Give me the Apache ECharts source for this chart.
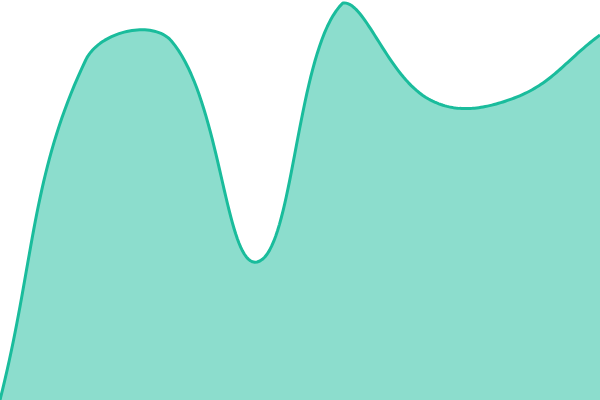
<!DOCTYPE html>
<html><head><meta charset="utf-8">
<script src="https://cdn.jsdelivr.net/npm/echarts@6/dist/echarts.min.js"></script>
<style>html,body{margin:0;padding:0;background:#fff}#c{width:600px;height:400px}</style>
</head><body><div id="c"></div>
<script>
const categories = ['1','2','3','4','5','6','7','8'];
const values = [0, 340, 359, 138, 397, 301, 302, 365];
const tension = 0.4;
const chart = echarts.init(document.getElementById('c'));

function renderItem(params, api) {
  if (params.dataIndex !== 0) return null;
  const cs = params.coordSys;
  const pts = values.map((v, i) => api.coord([i, v]));
  const n = pts.length;
  const clampX = x => Math.max(cs.x, Math.min(cs.x + cs.width, x));
  const clampY = y => Math.max(cs.y, Math.min(cs.y + cs.height, y));
  const cpPrev = [], cpNext = [];
  for (let i = 0; i < n; i++) {
    const p = pts[i];
    const pr = pts[i - 1] || p;
    const nx = pts[i + 1] || p;
    const d01 = Math.hypot(p[0] - pr[0], p[1] - pr[1]);
    const d12 = Math.hypot(nx[0] - p[0], nx[1] - p[1]);
    let s01 = d01 / (d01 + d12), s12 = d12 / (d01 + d12);
    if (!isFinite(s01)) s01 = 0;
    if (!isFinite(s12)) s12 = 0;
    const fa = tension * s01, fb = tension * s12;
    cpPrev.push([clampX(p[0] - fa * (nx[0] - pr[0])), clampY(p[1] - fa * (nx[1] - pr[1]))]);
    cpNext.push([clampX(p[0] + fb * (nx[0] - pr[0])), clampY(p[1] + fb * (nx[1] - pr[1]))]);
  }
  const line = [pts[0]];
  const steps = 40;
  for (let i = 0; i < n - 1; i++) {
    const a = pts[i], b = cpNext[i], c = cpPrev[i + 1], d = pts[i + 1];
    for (let s = 1; s <= steps; s++) {
      const t = s / steps, u = 1 - t;
      line.push([
        u*u*u*a[0] + 3*u*u*t*b[0] + 3*u*t*t*c[0] + t*t*t*d[0],
        u*u*u*a[1] + 3*u*u*t*b[1] + 3*u*t*t*c[1] + t*t*t*d[1]
      ]);
    }
  }
  const base = cs.y + cs.height;
  const area = [[pts[0][0], base]].concat(line, [[pts[n - 1][0], base]]);
  return {
    type: 'group',
    children: [
      {type: 'polygon', shape: {points: area}, style: {fill: 'rgba(26,188,156,0.5)'}},
      {type: 'polyline', shape: {points: line}, style: {stroke: '#1abc9c', lineWidth: 3, fill: null, lineJoin: 'round'}}
    ]
  };
}

chart.setOption({
  animation: false,
  grid: {left: 0, right: 0, top: 0, bottom: 0},
  xAxis: {type: 'category', data: categories, boundaryGap: false, show: false},
  yAxis: {type: 'value', min: 0, max: 400, show: false},
  series: [{
    type: 'custom', data: values.map((v, i) => [i, v]),
    encode: {x: 0, y: 1},
    renderItem: renderItem
  }]
});
</script></body></html>
